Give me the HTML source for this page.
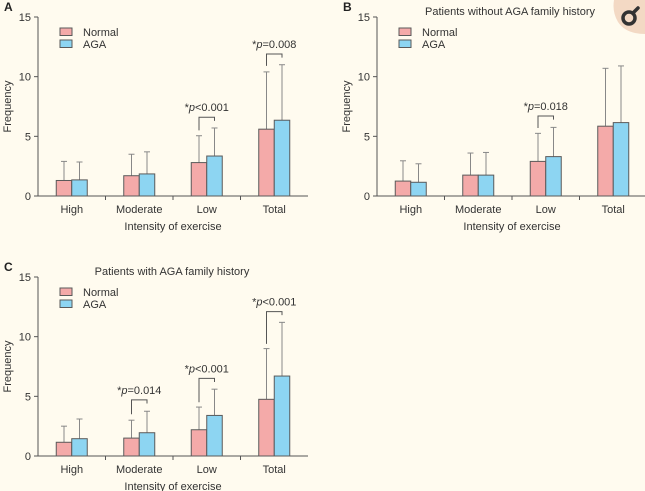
<!DOCTYPE html>
<html><head><meta charset="utf-8"><style>
body{margin:0;background:#fffbef;}
svg{display:block;font-family:"Liberation Sans",sans-serif;}
</style></head><body>
<svg width="645" height="491" id="chart">
<rect width="645" height="491" fill="#fffbef"/>
<g>
<path d="M614 0 H645 V34 Q626 34 618 22 Q612 12 614 0Z" fill="#f3d9c4"/>
<circle cx="629" cy="18" r="6" fill="none" stroke="#333" stroke-width="3.5"/>
<line x1="633" y1="13" x2="638" y2="8" stroke="#333" stroke-width="3.5" stroke-linecap="round"/>
</g>
</svg>
<script>
const categories=["High","Moderate","Low","Total"];
const aNormal=[1.3,1.7,2.8,5.6];
const aAGA=[1.35,1.85,3.35,6.35];
const aNormalErr=[2.9,3.5,5.05,10.4];
const aAGAErr=[2.85,3.7,5.7,11.0];
const bNormal=[1.25,1.75,2.9,5.85];
const bAGA=[1.15,1.75,3.3,6.15];
const bNormalErr=[2.95,3.6,5.25,10.7];
const bAGAErr=[2.7,3.65,5.75,10.9];
const cNormal=[1.15,1.5,2.2,4.75];
const cAGA=[1.45,1.95,3.4,6.7];
const cNormalErr=[2.5,3.0,4.1,9.0];
const cAGAErr=[3.1,3.75,5.6,11.2];
const yTicks=[0,5,10,15];
// significance annotations: [categoryIndex, bracketY, leftLegEnd, rightLegEnd, label]
const aSig=[[2,6.6,5.5,6.3,"<0.001"],[3,11.9,10.9,11.6,"=0.008"]];
const bSig=[[2,6.7,5.7,6.4,"=0.018"]];
const cSig=[[1,4.7,3.5,4.4,"=0.014"],[2,6.5,4.5,6.2,"<0.001"],[3,12.1,9.4,11.8,"<0.001"]];

const NS="http://www.w3.org/2000/svg";
const svg=document.getElementById('chart');
function mk(tag,attrs,parent,text){const e=document.createElementNS(NS,tag);for(const k in attrs)e.setAttribute(k,attrs[k]);if(text!==undefined)e.textContent=text;(parent||svg).appendChild(e);return e;}

function panel(id,x0,yBase,letter,title,titleX,normal,aga,nErr,gErr,sig){
  const g=mk('g',{});
  
  
  const yTop=yBase-179, gw=67.5, xEnd=x0+gw*4;
  const y=v=>yBase-v*(179/15);
  const xc=i=>x0+gw*(i+0.5);
  const lt=mk('text',{x:id==='b'?343:4,y:yTop-6,'font-size':12,'font-weight':'bold',fill:'#222'},g,letter);
  
  
  if(title){const t=mk('text',{x:titleX,y:yTop-2,'font-size':11,'text-anchor':'middle',fill:'#333'},g,title);
    
    }
  const ya=mk('line',{x1:x0,y1:yTop,x2:x0,y2:yBase,stroke:'#555','stroke-width':1},g);
  
  
  const xa=mk('line',{x1:x0,y1:yBase,x2:xEnd,y2:yBase,stroke:'#555','stroke-width':1},g);
  
  
  yTicks.forEach(v=>{mk('line',{x1:x0-4,y1:y(v),x2:x0,y2:y(v),stroke:'#555'},g);
    const t=mk('text',{x:x0-7,y:y(v)+4,'font-size':11,'text-anchor':'end',fill:'#333'},g,v);
    
    });
  for(let i=1;i<4;i++)mk('line',{x1:x0+gw*i,y1:yBase,x2:x0+gw*i,y2:yBase+4,stroke:'#555'},g);
  const yl=mk('text',{transform:`translate(${x0-27},${y(7.5)}) rotate(-90)`,'font-size':11,'text-anchor':'middle',fill:'#333'},g,'Frequency');
  
  
  const xl=mk('text',{x:x0+gw*2,y:yBase+34,'font-size':11,'text-anchor':'middle',fill:'#333'},g,'Intensity of exercise');
  
  
  const bw=15.5;
  categories.forEach((c,i)=>{
    const t=mk('text',{x:xc(i),y:yBase+17,'font-size':11,'text-anchor':'middle',fill:'#333'},g,c);
    
    
    [[normal,nErr,'#f4aaa9',-bw],[aga,gErr,'#8dd5f2',0]].forEach(([vals,errs,col,off])=>{
      const bx=xc(i)+off;
      const e=mk('line',{x1:bx+bw/2,y1:y(errs[i]),x2:bx+bw/2,y2:y(vals[i]),stroke:'#888'},g);
      
      
      mk('line',{x1:bx+bw/2-3,y1:y(errs[i]),x2:bx+bw/2+3,y2:y(errs[i]),stroke:'#888'},g);
      const r=mk('rect',{x:bx,y:y(vals[i]),width:bw,height:y(0)-y(vals[i]),fill:col,stroke:'#5a5a5a','stroke-width':1},g);
      
      
    });
  });
  sig.forEach(s=>{
    const lx=xc(s[0])-bw/2, rx=xc(s[0])+bw/2;
    const p=mk('path',{d:`M${lx} ${y(s[2])} V${y(s[1])} H${rx} V${y(s[3])}`,fill:'none',stroke:'#555'},g);
    
    
    const t=mk('text',{x:xc(s[0]),y:y(s[1])-6,'font-size':11,'text-anchor':'middle',fill:'#333'},g);
    
    
    mk('tspan',{},t,'*');mk('tspan',{'font-style':'italic'},t,'p');mk('tspan',{},t,s[4]);
  });
  const lg=mk('g',{},g);
  
  
  [['Normal','#f4aaa9'],['AGA','#8dd5f2']].forEach(([n,col],k)=>{
    const yy=yTop+11+k*12;
    mk('rect',{x:x0+22,y:yy,width:12,height:7.5,fill:col,stroke:'#5a5a5a'},lg);
    const t=mk('text',{x:x0+45,y:yy+8,'font-size':11,fill:'#333'},lg,n);
    
    
  });
}
panel('a',38,196,'A',null,0,aNormal,aAGA,aNormalErr,aAGAErr,aSig);
panel('b',377,196,'B','Patients without AGA family history',510,bNormal,bAGA,bNormalErr,bAGAErr,bSig);
panel('c',38,456,'C','Patients with AGA family history',172,cNormal,cAGA,cNormalErr,cAGAErr,cSig);
</script>
</body></html>
